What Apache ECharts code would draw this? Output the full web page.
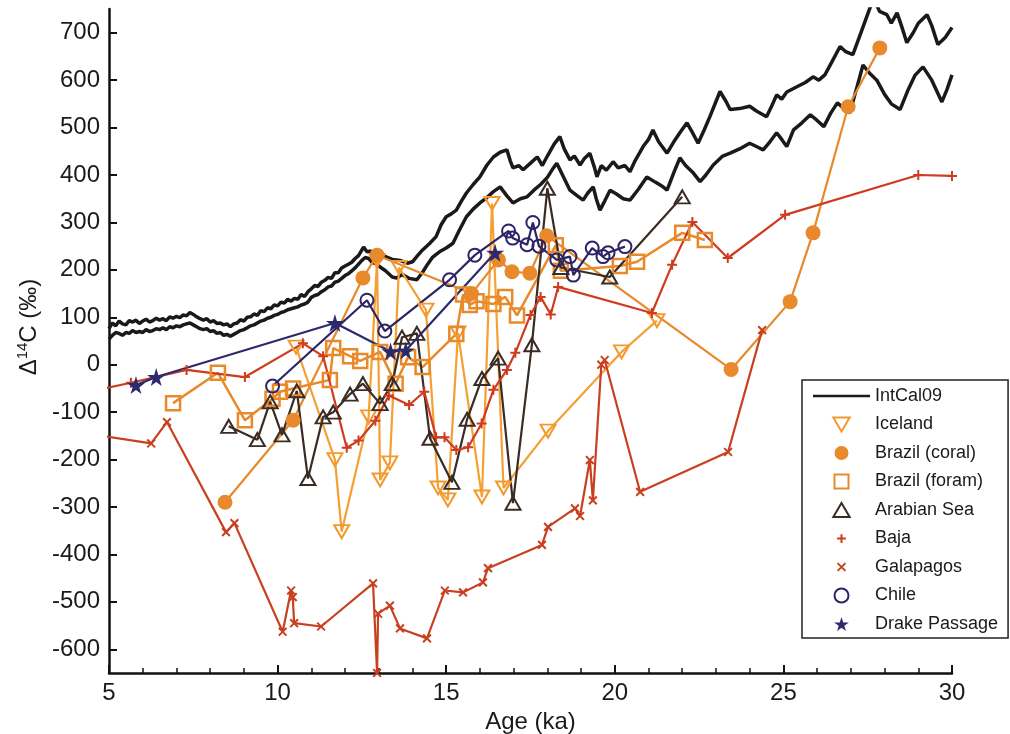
<!DOCTYPE html>
<html lang="en">
<head>
	<meta charset="UTF-8">
	<title>Δ14C vs Age</title>
	<style>
		html, body { margin: 0; padding: 0; background: #fff; }
	</style>
</head>
<body>
<div id="chart" style="width:1010px;height:734px;"></div>
<script src="https://cdn.jsdelivr.net/npm/echarts@6/dist/echarts.min.js"></script>
<script>
	// IntCal09 envelope, upper and lower curves [age ka, D14C permil]
	var intcalUpper = [
		[5.0,76],[5.1,88],[5.2,82],[5.3,92],[5.4,86],[5.5,84],[5.6,93],[5.7,90],[5.8,94],[5.9,87],
		[6.0,92],[6.1,96],[6.2,90],[6.3,93],[6.4,98],[6.5,94],[6.6,97],[6.7,93],[6.8,101],[6.9,98],
		[7.0,102],[7.1,99],[7.2,105],[7.3,103],[7.4,110],[7.5,106],[7.6,101],[7.7,97],[7.8,94],[7.9,97],
		[8.0,90],[8.1,93],[8.2,87],[8.3,88],[8.4,84],[8.5,86],[8.6,80],[8.7,86],[8.8,88],[8.9,95],
		[9.0,92],[9.1,100],[9.2,101],[9.3,107],[9.4,104],[9.5,114],[9.6,112],[9.7,120],[9.8,118],[9.9,126],
		[10.0,124],[10.1,132],[10.2,130],[10.3,138],[10.4,134],[10.5,140],[10.6,138],[10.7,148],[10.8,144],[10.9,154],
		[11.0,160],[11.1,167],[11.2,165],[11.3,174],[11.4,178],[11.5,184],[11.6,182],[11.7,194],[11.8,194],[11.9,204],
		[12.0,208],[12.1,212],[12.2,216],[12.3,224],[12.4,230],[12.5,242],[12.55,248],[12.65,238],[12.75,240],[12.85,230],
		[12.95,236],[13.04,232],[13.2,228],[13.4,222],[13.63,220],[13.85,214],[14.0,217],[14.15,230],[14.3,242],[14.5,255],
		[14.7,270],[14.85,295],[15.0,312],[15.15,318],[15.3,326],[15.45,345],[15.6,362],[15.8,380],[16.0,396],[16.2,420],
		[16.4,438],[16.6,448],[16.8,453],[16.9,430],[16.98,415],[17.15,420],[17.28,411],[17.5,425],[17.7,438],[17.85,420],
		[18.0,440],[18.2,465],[18.37,481],[18.5,455],[18.67,432],[18.8,440],[18.97,421],[19.1,435],[19.26,446],[19.4,415],
		[19.47,396],[19.6,420],[19.75,410],[19.95,428],[20.1,415],[20.3,420],[20.45,407],[20.6,430],[20.84,460],[21.0,475],
		[21.13,495],[21.3,470],[21.55,446],[21.75,470],[21.93,489],[22.14,510],[22.3,490],[22.47,467],[22.65,495],[22.82,523],
		[23.0,555],[23.12,576],[23.3,555],[23.42,538],[23.7,540],[24.0,545],[24.2,535],[24.5,523],[24.65,545],[24.8,569],
		[24.95,560],[25.1,575],[25.4,586],[25.65,595],[25.88,607],[26.05,600],[26.23,611],[26.45,640],[26.68,671],[26.85,660],
		[27.06,654],[27.3,700],[27.57,753],[27.7,770],[27.85,745],[28.07,738],[28.2,720],[28.37,742],[28.5,715],[28.66,679],
		[28.85,700],[29.0,720],[29.26,738],[29.4,715],[29.58,675],[29.8,690],[30.0,711]
	];
	var intcalLower = [
		[5.0,54],[5.1,62],[5.2,68],[5.3,66],[5.4,62],[5.5,68],[5.6,66],[5.7,72],[5.8,68],[5.9,70],
		[6.0,68],[6.1,74],[6.2,70],[6.3,72],[6.4,76],[6.5,74],[6.6,78],[6.7,74],[6.8,80],[6.9,78],
		[7.0,82],[7.1,80],[7.2,84],[7.3,86],[7.4,88],[7.5,84],[7.6,80],[7.7,76],[7.8,74],[7.9,76],
		[8.0,70],[8.1,72],[8.2,66],[8.3,68],[8.4,62],[8.5,64],[8.6,60],[8.7,64],[8.8,68],[8.9,72],
		[9.0,74],[9.1,78],[9.2,82],[9.3,84],[9.4,88],[9.5,92],[9.6,94],[9.7,98],[9.8,100],[9.9,104],
		[10.0,106],[10.1,110],[10.2,112],[10.3,116],[10.4,118],[10.5,120],[10.6,122],[10.7,126],[10.8,128],[10.9,132],
		[11.0,142],[11.1,146],[11.2,148],[11.3,154],[11.4,158],[11.5,164],[11.6,166],[11.7,174],[11.8,176],[11.9,182],
		[12.0,188],[12.1,192],[12.2,198],[12.3,204],[12.4,212],[12.5,220],[12.6,226],[12.7,224],[12.8,216],[12.95,212],
		[13.04,206],[13.2,198],[13.4,185],[13.53,183],[13.7,190],[13.9,182],[14.13,179],[14.3,195],[14.45,212],[14.6,227],
		[14.8,238],[15.0,246],[15.2,256],[15.4,285],[15.6,312],[15.8,328],[16.0,341],[16.2,352],[16.4,365],[16.6,375],
		[16.8,356],[16.98,341],[17.2,350],[17.4,354],[17.6,368],[17.8,380],[18.0,395],[18.15,412],[18.28,425],[18.45,400],
		[18.67,368],[18.85,358],[19.06,347],[19.2,362],[19.36,375],[19.45,350],[19.56,326],[19.7,345],[19.86,368],[20.05,360],
		[20.25,350],[20.45,347],[20.7,370],[20.95,396],[21.2,385],[21.43,375],[21.55,368],[21.75,405],[21.93,436],[22.1,420],
		[22.33,404],[22.53,386],[22.7,400],[22.92,421],[23.2,440],[23.42,446],[23.7,455],[24.0,467],[24.2,460],[24.4,453],
		[24.6,470],[24.8,489],[24.95,475],[25.1,460],[25.3,495],[25.55,510],[25.8,527],[26.0,515],[26.2,502],[26.4,530],
		[26.6,552],[26.8,540],[26.97,531],[27.2,590],[27.36,632],[27.55,615],[27.77,600],[28.0,570],[28.2,550],[28.46,538],
		[28.7,580],[28.9,610],[29.14,628],[29.4,600],[29.7,554],[29.85,580],[30.0,611]
	];

	var iceland = [[10.55,37],[11.7,-200],[11.9,-352],[12.7,-110],[12.95,220],[13.04,-243],[13.33,-207],
		[13.6,205],[14.4,115],[14.76,-260],[15.05,-285],[15.35,67],[16.06,-279],[16.36,340],[16.7,-260],
		[18.02,-140],[20.2,27],[21.25,93]];
	var brazilCoral = [[8.44,-290],[10.46,-117],[12.53,183],[12.95,231],[15.75,150],[16.55,221],[16.95,196],
		[17.48,193],[17.98,272],[23.45,-10],[25.2,133],[25.88,278],[26.92,544],[27.86,668]];
	var brazilForam = [[6.9,-81],[8.23,-17],[9.03,-117],[9.85,-72],[10.07,-57],[10.46,-50],[11.55,-32],
		[11.65,35],[12.15,18],[12.45,8],[13.04,27],[13.5,-40],[13.87,16],[14.3,-5],[15.3,65],[15.5,148],
		[15.7,126],[15.9,134],[16.4,128],[16.75,143],[17.1,104],[18.25,252],[18.4,198],[20.15,208],
		[20.66,217],[22.0,278],[22.67,263]];
	var arabianSea = [[8.55,-130],[9.4,-158],[9.78,-78],[10.13,-148],[10.57,-55],[10.9,-240],[11.35,-110],
		[11.65,-100],[12.15,-62],[12.53,-40],[13.04,-82],[13.4,-40],[13.69,58],[14.13,66],[14.52,-155],
		[15.17,-248],[15.62,-115],[16.06,-29],[16.54,14],[16.98,-292],[17.54,42],[18.0,372],[18.4,205],
		[19.85,185],[22.0,354]];
	var baja = [[4.85,-50],[5.65,-38],[7.3,-11],[9.03,-26],[10.75,45],[11.35,18],[12.05,-175],[12.4,-160],
		[12.9,-118],[13.3,-65],[13.9,-85],[14.35,-57],[14.7,-153],[14.95,-153],[15.3,-180],[15.65,-174],
		[16.05,-124],[16.4,-53],[16.8,-11],[17.05,25],[17.5,105],[17.8,143],[18.1,106],[18.32,164],
		[21.1,109],[21.7,211],[22.3,301],[23.35,225],[25.05,316],[29.0,400],[30.0,398]];
	var galapagos = [[4.8,-150],[6.25,-166],[6.72,-121],[8.47,-353],[8.72,-334],[10.15,-563],[10.4,-476],
		[10.45,-490],[10.49,-545],[11.29,-552],[12.83,-461],[12.95,-650],[12.98,-525],[13.33,-508],
		[13.63,-556],[14.43,-577],[14.96,-476],[15.5,-480],[16.09,-459],[16.24,-429],[17.84,-380],
		[18.02,-342],[18.82,-303],[18.97,-319],[19.26,-201],[19.35,-286],[19.6,0],[19.7,10],[20.75,-268],
		[23.36,-184],[24.37,73]];
	var chile = [[9.85,-45],[12.65,136],[13.18,71],[15.1,179],[15.85,231],[16.85,282],[16.97,267],[17.4,253],
		[17.57,300],[17.75,250],[18.28,221],[18.67,228],[18.77,189],[19.33,246],[19.65,228],[19.8,236],
		[20.3,249]];
	var drakePassage = [[5.8,-43],[6.4,-26],[11.7,88],[13.35,28],[13.8,30],[16.45,236]];

	var yTicks = [-600,-500,-400,-300,-200,-100,0,100,200,300,400,500,600,700];

	var FONT = 'Liberation Sans';
	var DOWN_TRI = 'path://M0,0L14,0L7,12Z';
	var UP_TRI = 'path://M7,0L14,12L0,12Z';
	var SQUARE = 'path://M0,0L10,0L10,10L0,10Z';
	var PLUS = 'path://M-3,-3L-3,-3M5,0L5,10M0,5L10,5M13,13L13,13';
	var CROSS = 'path://M-4,-4L-4,-4M0,0L10,10M10,0L0,10M14,14L14,14';
	var STAR = 'path://M50,0L61,35L98,35L68,57L79,91L50,70L21,91L32,57L2,35L39,35Z';
	var LINE_ICON = 'path://M0,0L57,0L57,2.5L0,2.5Z';

	var myChart = echarts.init(document.getElementById('chart'), null, {renderer: 'canvas'});

	function dataSeries(name, data, lineColor, symbol, size, itemStyle, lineWidth) {
		return {
			name: name,
			type: 'line',
			data: data,
			symbol: symbol,
			symbolSize: size,
			showAllSymbol: true,
			lineStyle: {color: lineColor, width: lineWidth || 2.2},
			itemStyle: itemStyle,
			emphasis: {disabled: true},
			z: 3
		};
	}

	var option = {
		animation: false,
		backgroundColor: '#fff',
		grid: {left: 109, right: 58, top: 9, bottom: 61, outerBoundsMode: 'none'},
		legend: {
			orient: 'vertical',
			left: 802,
			top: 380,
			padding: [7, 10, 5, 11],
			itemWidth: 57,
			itemHeight: 14,
			itemGap: 10.5,
			borderColor: '#222',
			borderWidth: 1.5,
			backgroundColor: '#fff',
			selectedMode: false,
			textStyle: {fontFamily: FONT, fontSize: 18, color: '#1a1a1a'},
			data: [
				{name: 'IntCal09', icon: LINE_ICON},
				{name: 'Iceland', icon: DOWN_TRI},
				{name: 'Brazil (coral)', icon: 'circle'},
				{name: 'Brazil (foram)', icon: SQUARE},
				{name: 'Arabian Sea', icon: UP_TRI},
				{name: 'Baja', icon: PLUS},
				{name: 'Galapagos', icon: CROSS},
				{name: 'Chile', icon: 'circle'},
				{name: 'Drake Passage', icon: STAR}
			]
		},
		xAxis: {
			type: 'value',
			min: 5,
			max: 30,
			interval: 5,
			name: 'Age (ka)',
			nameLocation: 'middle',
			nameGap: 32,
			nameTextStyle: {fontFamily: FONT, fontSize: 24, color: '#1a1a1a'},
			axisLine: {onZero: false, lineStyle: {color: '#111', width: 2.5}},
			axisTick: {inside: true, length: 8, lineStyle: {color: '#111', width: 2}},
			minorTick: {show: true, splitNumber: 5, length: 5, lineStyle: {color: '#111', width: 1.5}},
			axisLabel: {fontFamily: FONT, fontSize: 24, color: '#1a1a1a', margin: 8},
			splitLine: {show: false}
		},
		yAxis: {
			type: 'value',
			min: -650,
			max: 750,
			name: '{a|Δ}{s|14}{a|C (‰)}',
			nameLocation: 'middle',
			nameGap: 66,
			nameTextStyle: {
				padding: [0, 0, 0, 28],
				rich: {
					a: {fontFamily: FONT, fontSize: 24, color: '#1a1a1a'},
					s: {fontFamily: FONT, fontSize: 15, color: '#1a1a1a', padding: [0, 0, 12, 0]}
				}
			},
			axisLine: {show: true, onZero: false, lineStyle: {color: '#111', width: 2.5}},
			axisTick: {show: true, inside: true, length: 8, customValues: yTicks, lineStyle: {color: '#111', width: 2}},
			axisLabel: {fontFamily: FONT, fontSize: 24, color: '#1a1a1a', margin: 9, customValues: yTicks},
			splitLine: {show: false}
		},
		series: [
			{
				name: 'IntCal09', type: 'line', data: intcalUpper, symbol: 'none',
				lineStyle: {color: '#1a1a1a', width: 3.5}, itemStyle: {color: '#1a1a1a'},
				emphasis: {disabled: true}, z: 2
			},
			{
				name: 'IntCal09', type: 'line', data: intcalLower, symbol: 'none',
				lineStyle: {color: '#1a1a1a', width: 3.5}, itemStyle: {color: '#1a1a1a'},
				emphasis: {disabled: true}, z: 2
			},
			dataSeries('Iceland', iceland, '#f4a032', DOWN_TRI, [15, 13],
				{color: 'transparent', borderColor: '#f39a2e', borderWidth: 2}),
			dataSeries('Brazil (coral)', brazilCoral, '#e8892c', 'circle', 15,
				{color: '#e8892c', borderWidth: 0}),
			dataSeries('Brazil (foram)', brazilForam, '#e88a2a', SQUARE, 14,
				{color: 'transparent', borderColor: '#e88a2a', borderWidth: 2.5}, 2.5),
			dataSeries('Arabian Sea', arabianSea, '#3a2c24', UP_TRI, [15, 13],
				{color: 'transparent', borderColor: '#3a2c24', borderWidth: 2}),
			dataSeries('Baja', baja, '#cf3b1f', PLUS, 16,
				{color: 'transparent', borderColor: '#cf3b1f', borderWidth: 2}),
			dataSeries('Galapagos', galapagos, '#c8401f', CROSS, 14,
				{color: 'transparent', borderColor: '#c8401f', borderWidth: 2}),
			dataSeries('Chile', chile, '#2c2466', 'circle', 13,
				{color: 'transparent', borderColor: '#2c2466', borderWidth: 2}),
			dataSeries('Drake Passage', drakePassage, '#2c2a6c', STAR, 18,
				{color: '#2c2a6c', borderWidth: 0})
		]
	};

	myChart.setOption(option);
</script>
</body>
</html>
